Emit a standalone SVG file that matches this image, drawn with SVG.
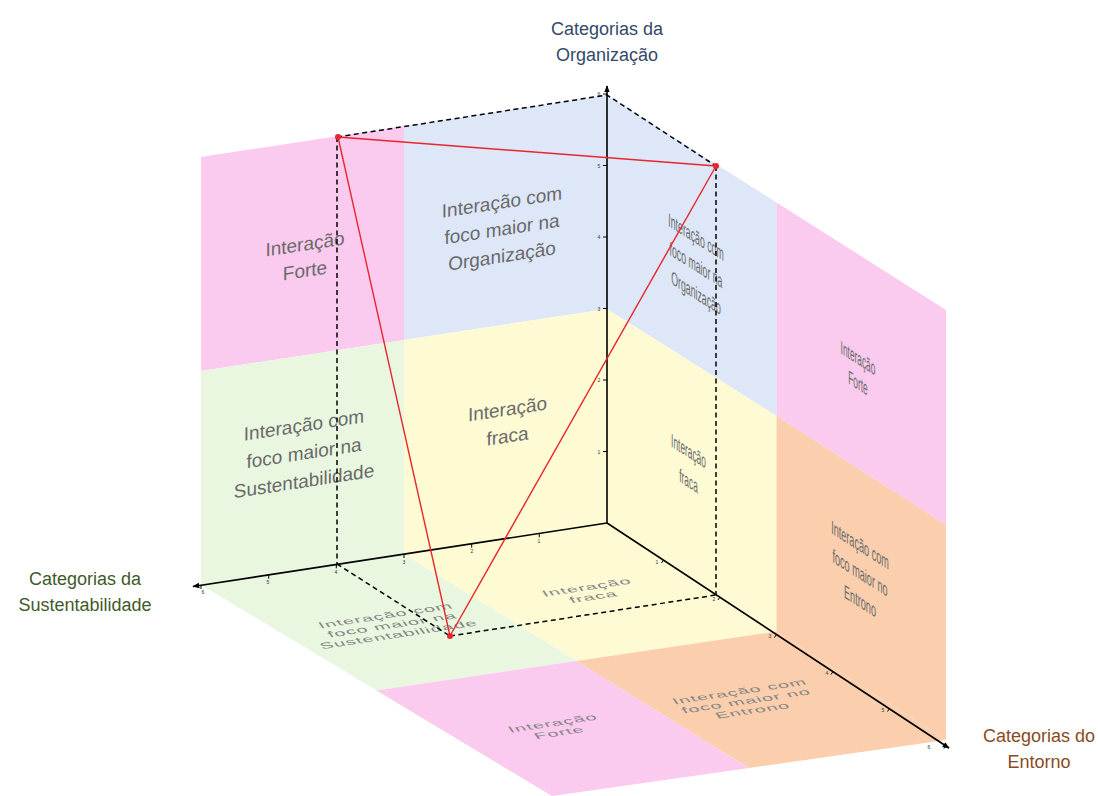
<svg xmlns="http://www.w3.org/2000/svg" width="1100" height="796" viewBox="0 0 1100 796">
<defs>
<marker id="arr" viewBox="0 0 10 10" refX="9" refY="5" markerWidth="7" markerHeight="7" orient="auto-start-reverse" markerUnits="userSpaceOnUse">
<path d="M0,1 L10,5 L0,9 z" fill="#000"/>
</marker>
<style>
.pink{fill:#FBCAEF}
.blue{fill:#DDE7F8}
.green{fill:#E9F7E0}
.yellow{fill:#FEFBD4}
.orange{fill:#FBCFAE}
.wt{font-family:"Liberation Sans",Arial,sans-serif;font-size:19px;fill:#6a6a6a;text-anchor:middle}
.ft{font-family:"Liberation Sans",Arial,sans-serif;font-size:19px;fill:#858585;text-anchor:middle;letter-spacing:1px}
.ax{stroke:#000;stroke-width:1.6;fill:none}
.tk{stroke:#000;stroke-width:1;fill:none}
.tl{font-family:"Liberation Sans",Arial,sans-serif;font-size:5px;fill:#333;text-anchor:middle}
.dash{stroke:#000;stroke-width:1.5;stroke-dasharray:5 3.5;fill:none}
.red{stroke:#E8262C;stroke-width:1.4;fill:none}
.dot{fill:#E8262C}
.lbl{font-family:"Liberation Sans",Arial,sans-serif;font-size:18px;text-anchor:middle}
</style>
</defs>

<!-- Left (back) wall -->
<g id="wall-left-forte">
<polygon class="pink" points="201,157 404,126 404,340 201,371"/>
<text class="wt" transform="matrix(1,-0.153,0,1,305,257)"><tspan x="0" y="-6.5">Interação</tspan><tspan x="0" y="20">Forte</tspan></text>
</g>
<g id="wall-left-organizacao">
<polygon class="blue" points="404,126 607,95 607,309 404,340"/>
<text class="wt" transform="matrix(1,-0.153,0,1,502,229)"><tspan x="0" y="-20.5">Interação com</tspan><tspan x="0" y="6.5">foco maior na</tspan><tspan x="0" y="33.5">Organização</tspan></text>
</g>
<g id="wall-left-sustentabilidade">
<polygon class="green" points="201,371 404,340 404,554 201,585"/>
<text class="wt" transform="matrix(1,-0.153,0,1,304,453)"><tspan x="0" y="-21.5">Interação com</tspan><tspan x="0" y="6.5">foco maior na</tspan><tspan x="0" y="34.5">Sustentabilidade</tspan></text>
</g>
<g id="wall-left-fraca">
<polygon class="yellow" points="404,340 607,309 607,523 404,554"/>
<text class="wt" transform="matrix(1,-0.153,0,1,507.5,422.5)"><tspan x="0" y="-7">Interação</tspan><tspan x="0" y="20">fraca</tspan></text>
</g>

<!-- Right wall -->
<g id="wall-right-organizacao">
<polygon class="blue" points="607,95 776.5,202.5 776.5,416 607,309"/>
<text class="wt" transform="matrix(0.46,0.292,0,1,696,265)"><tspan x="0" y="-21.5">Interação com</tspan><tspan x="0" y="6.5">foco maior na</tspan><tspan x="0" y="34.5">Organização</tspan></text>
</g>
<g id="wall-right-forte">
<polygon class="pink" points="776.5,202.5 946,310 946,525 776.5,416"/>
<text class="wt" transform="matrix(0.44,0.279,0,1,858,370.5)"><tspan x="0" y="-6">Interação</tspan><tspan x="0" y="19">Forte</tspan></text>
</g>
<g id="wall-right-fraca">
<polygon class="yellow" points="607,309 776.5,416 776.5,631.5 607,523"/>
<text class="wt" transform="matrix(0.44,0.279,0,1,688.5,466)"><tspan x="0" y="-8.5">Interação</tspan><tspan x="0" y="21.5">fraca</tspan></text>
</g>
<g id="wall-right-entorno">
<polygon class="orange" points="776.5,416 946,525 946,740 776.5,631.5"/>
<text class="wt" transform="matrix(0.48,0.304,0,1,860,573)"><tspan x="0" y="-21.5">Interação com</tspan><tspan x="0" y="6.5">foco maior no</tspan><tspan x="0" y="34.5">Entrono</tspan></text>
</g>

<!-- Floor -->
<g id="floor-fraca">
<polygon class="yellow" points="607,523 404,554 576.5,661 776.5,631.5"/>
<text class="ft" transform="matrix(1,-0.153,0.3,0.43,590,592)"><tspan x="0" y="-4.5">Interação</tspan><tspan x="0" y="17.5">fraca</tspan></text>
</g>
<g id="floor-sustentabilidade">
<polygon class="green" points="404,554 201,585 376.5,690.5 576.5,661"/>
<text class="ft" transform="matrix(1,-0.153,0.3,0.43,392,625)"><tspan x="0" y="-15.5">Interação com</tspan><tspan x="0" y="6.5">foco maior na</tspan><tspan x="0" y="28.5">Sustentabilidade</tspan></text>
</g>
<g id="floor-forte">
<polygon class="pink" points="576.5,661 376.5,690.5 552,796 749,768"/>
<text class="ft" transform="matrix(1,-0.153,0.3,0.43,556,728)"><tspan x="0" y="-4.5">Interação</tspan><tspan x="0" y="17.5">Forte</tspan></text>
</g>
<g id="floor-entorno">
<polygon class="orange" points="776.5,631.5 576.5,661 749,768 946,740"/>
<text class="ft" transform="matrix(1,-0.153,0.3,0.43,746,701)"><tspan x="0" y="-15.5">Interação com</tspan><tspan x="0" y="6.5">foco maior no</tspan><tspan x="0" y="28.5">Entrono</tspan></text>
</g>

<!-- Axes -->
<g id="axes">
<line class="ax" x1="607" y1="523" x2="607" y2="86" marker-end="url(#arr)"/>
<line class="ax" x1="607" y1="523" x2="193" y2="586.5" marker-end="url(#arr)"/>
<line class="ax" x1="607" y1="523" x2="949" y2="748" marker-end="url(#arr)"/>
<path class="tk" d="M603,451.5h4 M603,380h4 M603,308.5h4 M603,237h4 M603,165.5h4 M603,94h4"/>
<text class="tl" x="599" y="453.5">1</text>
<text class="tl" x="599" y="382">2</text>
<text class="tl" x="599" y="310.5">3</text>
<text class="tl" x="599" y="239">4</text>
<text class="tl" x="599" y="167.5">5</text>
<text class="tl" x="599" y="96">6</text>
<path class="tk" d="M539.3,533.3v4 M471.7,543.7v4 M404,554v4 M336.3,564.3v4 M268.7,574.7v4 M201,585v4"/>
<text class="tl" x="539" y="543">1</text>
<text class="tl" x="472" y="553">2</text>
<text class="tl" x="404" y="564">3</text>
<text class="tl" x="336" y="574">4</text>
<text class="tl" x="268" y="584">5</text>
<text class="tl" x="203" y="594">6</text>
<path class="tk" d="M663.5,560l-2,3 M720,597l-2,3 M776.5,634.5l-2,3 M833,671.5l-2,3 M889.5,708.5l-2,3 M946,745.5l-2,3"/>
<text class="tl" x="657" y="564">1</text>
<text class="tl" x="714" y="601">2</text>
<text class="tl" x="770" y="638">3</text>
<text class="tl" x="827" y="675">4</text>
<text class="tl" x="883" y="712">5</text>
<text class="tl" x="929" y="749">6</text>
</g>

<!-- Connectors -->
<g id="connectors">
<polyline class="dash" points="337,137 607,95 716,166"/>
<line class="dash" x1="337" y1="137" x2="337" y2="564"/>
<line class="dash" x1="716" y1="166" x2="716" y2="595"/>
<line class="dash" x1="337" y1="564" x2="450" y2="636"/>
<line class="dash" x1="450" y1="636" x2="716" y2="595"/>
<line class="red" x1="338" y1="137" x2="716" y2="166"/>
<line class="red" x1="338" y1="137" x2="450" y2="636"/>
<line class="red" x1="450" y1="636" x2="716" y2="166"/>
<circle class="dot" cx="338" cy="137" r="3"/>
<circle class="dot" cx="716" cy="166" r="3"/>
<circle class="dot" cx="450" cy="636" r="3"/>
</g>

<!-- Axis labels -->
<g id="label-organizacao">
<text class="lbl" fill="#34496A" x="607" y="35">Categorias da</text>
<text class="lbl" fill="#34496A" x="607" y="61">Organização</text>
</g>
<g id="label-sustentabilidade">
<text class="lbl" fill="#3F5A2B" x="85" y="585">Categorias da</text>
<text class="lbl" fill="#3F5A2B" x="85" y="611">Sustentabilidade</text>
</g>
<g id="label-entorno">
<text class="lbl" fill="#8A4B1E" x="1039" y="742">Categorias do</text>
<text class="lbl" fill="#8A4B1E" x="1039" y="768">Entorno</text>
</g>
</svg>
